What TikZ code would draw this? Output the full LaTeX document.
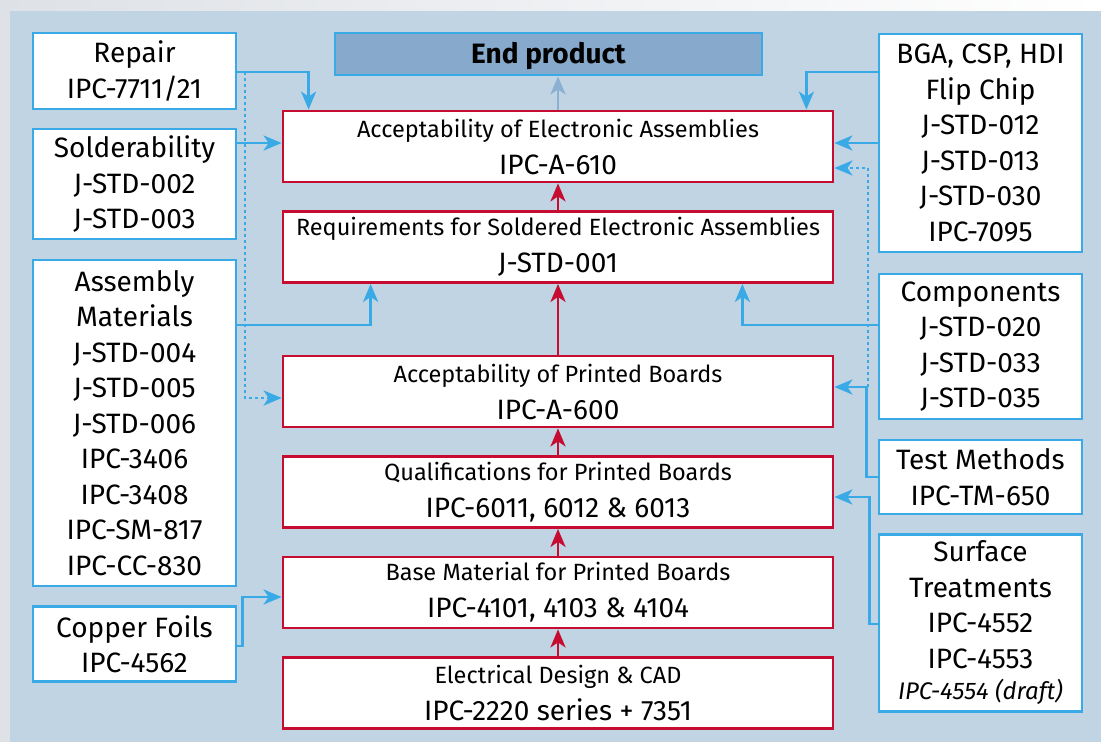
\documentclass[tikz,border=0pt]{standalone}
\usepackage{fontspec}
\setmainfont{Fira Sans}
\usetikzlibrary{arrows.meta,positioning}

\definecolor{ipcred}{RGB}{198,12,48}
\definecolor{ipcblue}{RGB}{58,170,230}
\definecolor{panel}{RGB}{192,212,228}
\definecolor{endfill}{RGB}{135,170,204}
\definecolor{endarrow}{RGB}{140,176,210}
\definecolor{rimgray}{RGB}{222,225,230}

% smaller first line of the main standard boxes
\newcommand{\stdtitle}[1]{{\fontsize{23.5}{37}\selectfont #1}}

\begin{document}
\begin{tikzpicture}[x=1pt,y=-1pt,
  >={Stealth[length=18pt,width=15pt,inset=5pt]},
  std node/.style={draw=ipcred,fill=white,line width=2.8pt,inner sep=0pt,
    minimum width=550,minimum height=71,align=center,
    font=\fontsize{28}{37}\selectfont},
  ref node/.style={draw=ipcblue,fill=white,line width=2.8pt,inner sep=0pt,
    minimum width=203,align=center,font=\fontsize{28}{35.5}\selectfont},
  feed/.style={->,draw=ipcblue,line width=2.8pt},
  weak feed/.style={feed,dash pattern=on 3pt off 3pt},
  chain/.style={->,draw=ipcred,line width=2.8pt}]

  \useasboundingbox (0,0) rectangle (1101,742);
  \shade[left color=rimgray,right color=white] (0,0) rectangle (1101,742);
  \fill[panel] (10,11) rectangle (1101,742);

  % main chain in the middle
  \node[std node] (a610) at (558,146.5) {\stdtitle{Acceptability of Electronic Assemblies}\\IPC-A-610};
  \node[std node] (j001) at (558,247) {\stdtitle{Requirements for Soldered Electronic Assemblies}\\J-STD-001};
  \node[std node] (a600) at (558,391.5) {\stdtitle{Acceptability of Printed Boards}\\IPC-A-600};
  \node[std node] (q6011) at (558,492) {\stdtitle{Qualifications for Printed Boards}\\IPC-6011, 6012 \& 6013};
  \node[std node] (base) at (558,592.5) {\stdtitle{Base Material for Printed Boards}\\IPC-4101, 4103 \& 4104};
  \node[std node] (cad) at (558,693) {\stdtitle{Electrical Design \& CAD}\\IPC-2220 series + 7351};

  \node[draw=ipcblue,fill=endfill,line width=2.8pt,minimum width=427,minimum height=42,
    text depth=2pt,font=\fontsize{28}{35}\selectfont\bfseries] (endp) at (548.5,54) {End product};

  % left column
  \node[ref node,minimum height=76] (repair) at (134.5,71) {Repair\\IPC-7711/21};
  \node[ref node,minimum height=110] (solder) at (134.5,184) {Solderability\\J-STD-002\\J-STD-003};
  \node[ref node,minimum height=326] (asm) at (134.5,423) {Assembly\\Materials\\J-STD-004\\J-STD-005\\J-STD-006\\IPC-3406\\IPC-3408\\IPC-SM-817\\IPC-CC-830};
  \node[ref node,minimum height=75] (copper) at (134.5,644) {Copper Foils\\IPC-4562};

  % right column
  \node[ref node,minimum height=218] (bga) at (980.5,143) {BGA, CSP, HDI\\Flip Chip\\J-STD-012\\J-STD-013\\J-STD-030\\IPC-7095};
  \node[ref node,minimum height=145] (comp) at (980.5,346.5) {Components\\J-STD-020\\J-STD-033\\J-STD-035};
  \node[ref node,minimum height=74] (test) at (980.5,477) {Test Methods\\IPC-TM-650};
  \node[ref node,minimum height=177] (surface) at (980.5,623) {Surface\\Treatments\\IPC-4552\\IPC-4553\\[-4pt]{\fontsize{24}{30}\selectfont\itshape IPC-4554 (draft)}};

  \coordinate (repair tap) at (245,72);
  \coordinate (test tap) at (868,387);

  % red chain upwards
  \foreach \a/\b in {cad/base,base/q6011,q6011/a600,a600/j001,j001/a610}
    \draw[chain] (\a) -- (\b);
  \draw[->,draw=endarrow,line width=2.8pt] (a610.north) -- (a610.north |- endp.south);

  % feeds from the left
  \draw[feed] (repair.east |- 0,72) -| ([xshift=27pt]a610.north west);
  \draw[weak feed] (repair tap) |- (a600.west |- 0,398);
  \draw[feed] (solder.east |- 0,143) -- (a610.west |- 0,143);
  \draw[feed] (asm.east |- 0,325) -| ([xshift=89pt]j001.south west);
  \draw[feed] (copper.east |- 0,646) -- ++(5,0) |- (base.west |- 0,597);

  % feeds from the right
  \draw[feed] (bga.west |- 0,72) -| ([xshift=-28pt]a610.north east);
  \draw[feed] (bga.west |- 0,143) -- (a610.east |- 0,143);
  \draw[feed] (comp.west |- 0,325) -| ([xshift=-92pt]j001.south east);
  \draw[feed] (test.west |- 0,477) -- ++(-11,0) |- (a600.east |- 0,387);
  \draw[weak feed] (test tap) |- (a610.east |- 0,168);
  \draw[feed] (surface.west |- 0,624) -- ++(-8,0) |- (q6011.east |- 0,497);

\end{tikzpicture}
\end{document}
